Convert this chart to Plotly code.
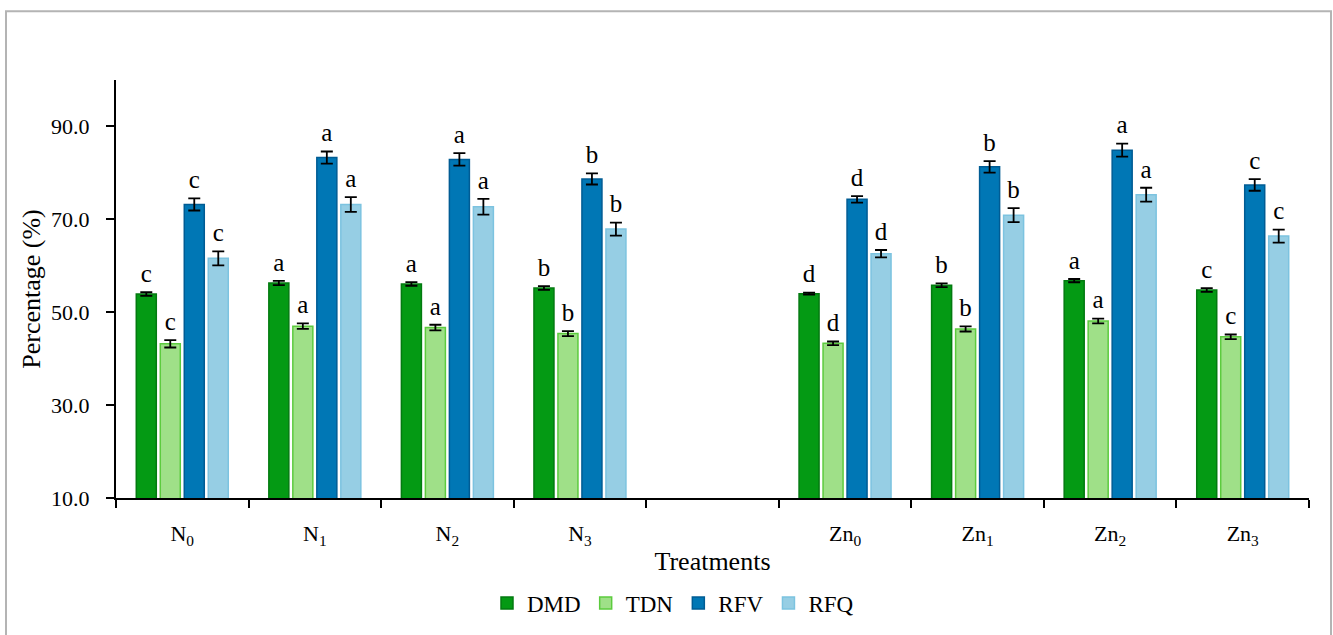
import plotly.graph_objects as go

# ---------------- data ----------------
categories = ["N<sub>0</sub>", "N<sub>1</sub>", "N<sub>2</sub>", "N<sub>3</sub>", "",
              "Zn<sub>0</sub>", "Zn<sub>1</sub>", "Zn<sub>2</sub>", "Zn<sub>3</sub>"]

series_names = ["DMD", "TDN", "RFV", "RFQ"]

dmd = [53.9, 56.3, 56.1, 55.2, None, 54.0, 55.8, 56.8, 54.8]
tdn = [43.2, 47.0, 46.7, 45.4, None, 43.3, 46.4, 48.1, 44.7]
rfv = [73.2, 83.3, 82.9, 78.7, None, 74.3, 81.3, 84.9, 77.4]
rfq = [61.6, 73.2, 72.7, 67.9, None, 62.6, 70.9, 75.3, 66.4]

dmd_err = [0.4, 0.45, 0.4, 0.4, None, 0.2, 0.4, 0.35, 0.4]
tdn_err = [0.8, 0.6, 0.6, 0.55, None, 0.4, 0.55, 0.5, 0.5]
rfv_err = [1.3, 1.3, 1.35, 1.2, None, 0.7, 1.25, 1.4, 1.25]
rfq_err = [1.5, 1.6, 1.7, 1.4, None, 0.8, 1.5, 1.5, 1.4]

dmd_letters = ["c", "a", "a", "b", "", "d", "b", "a", "c"]
tdn_letters = ["c", "a", "a", "b", "", "d", "b", "a", "c"]
rfv_letters = ["c", "a", "a", "b", "", "d", "b", "a", "c"]
rfq_letters = ["c", "a", "a", "b", "", "d", "b", "a", "c"]

y_ticks = [10, 30, 50, 70, 90]

# ---------------- styling ----------------
fills = ["#049A14", "#9FE088", "#0077B5", "#96CEE4"]
edges = ["#037A10", "#5CCB3E", "#005C94", "#7CC3E0"]
FONT = "Liberation Serif"

values = [dmd, tdn, rfv, rfq]
errors = [dmd_err, tdn_err, rfv_err, rfq_err]
letters = [dmd_letters, tdn_letters, rfv_letters, rfq_letters]

W, H = 1333, 635
L, R, T, B = 116, 24, 80, 136
pw, ph = W - L - R, H - T - B
Y_RANGE = [10, 100]
px_per_unit = ph / (Y_RANGE[1] - Y_RANGE[0])
label_pad = 4 / px_per_unit  # extra gap between error bar and letter

bar_w = 0.151
pitch = 0.181
xs = list(range(len(categories)))

fig = go.Figure()
for k in range(4):
    off = (k - 1.5) * pitch
    fig.add_trace(go.Bar(
        x=xs, y=values[k], name=series_names[k],
        width=bar_w, offset=off - bar_w / 2,
        marker=dict(color=fills[k], line=dict(color=edges[k], width=1.5)),
        error_y=dict(type="data", array=errors[k], visible=True,
                     color="black", thickness=1.8, width=6),
    ))

for k in range(4):
    off = (k - 1.5) * pitch
    tx, ty, tt = [], [], []
    for i, v in enumerate(values[k]):
        if v is None:
            continue
        tx.append(xs[i] + off)
        ty.append(v + errors[k][i] + label_pad)
        tt.append(letters[k][i])
    fig.add_trace(go.Scatter(
        x=tx, y=ty, text=tt, mode="text", textposition="top center",
        textfont=dict(family=FONT, size=25, color="black"),
        showlegend=False, hoverinfo="skip", cliponaxis=False,
    ))

def px_x(x):
    return (x - L) / pw

def px_y(y):
    return (H - B - y) / ph

fig.add_shape(type="rect", xref="paper", yref="paper",
              x0=px_x(6), x1=px_x(1331), y0=px_y(645), y1=px_y(11),
              line=dict(color="#B4B4B4", width=2), fillcolor="rgba(0,0,0,0)",
              layer="below")

fig.update_layout(
    width=W, height=H,
    margin=dict(l=L, r=R, t=T, b=B),
    paper_bgcolor="white", plot_bgcolor="white",
    barmode="overlay",
    font=dict(family=FONT, size=22, color="black"),
    showlegend=True,
    legend=dict(orientation="h", x=px_x(673), xanchor="center",
                y=px_y(603), yanchor="middle",
                font=dict(family=FONT, size=23, color="black"),
                itemwidth=30, tracegroupgap=0),
    xaxis=dict(
        range=[-0.5, len(categories) - 0.5],
        tickmode="array", tickvals=xs, ticktext=categories,
        ticks="", showgrid=False, zeroline=False,
        showline=True, linecolor="black", linewidth=2,
        tickfont=dict(family=FONT, size=22, color="black"),
        ticklabelstandoff=15,
        minor=dict(tick0=-0.5, dtick=1, ticks="outside", ticklen=8,
                   tickwidth=1.5, tickcolor="black", showgrid=False),
        title=dict(text="Treatments", font=dict(family=FONT, size=26, color="black"), standoff=4),
        automargin=False,
    ),
    yaxis=dict(
        range=Y_RANGE, tickmode="array", tickvals=y_ticks,
        tickformat=".1f",
        ticks="outside", ticklen=8, tickwidth=1.5, tickcolor="black",
        showgrid=False, zeroline=False,
        showline=True, linecolor="black", linewidth=2,
        tickfont=dict(family=FONT, size=22, color="black"),
        ticklabelstandoff=12,
        title=dict(text="Percentage (%)", font=dict(family=FONT, size=26, color="black"), standoff=3),
        automargin=False,
    ),
)

fig.write_html("out.html")
